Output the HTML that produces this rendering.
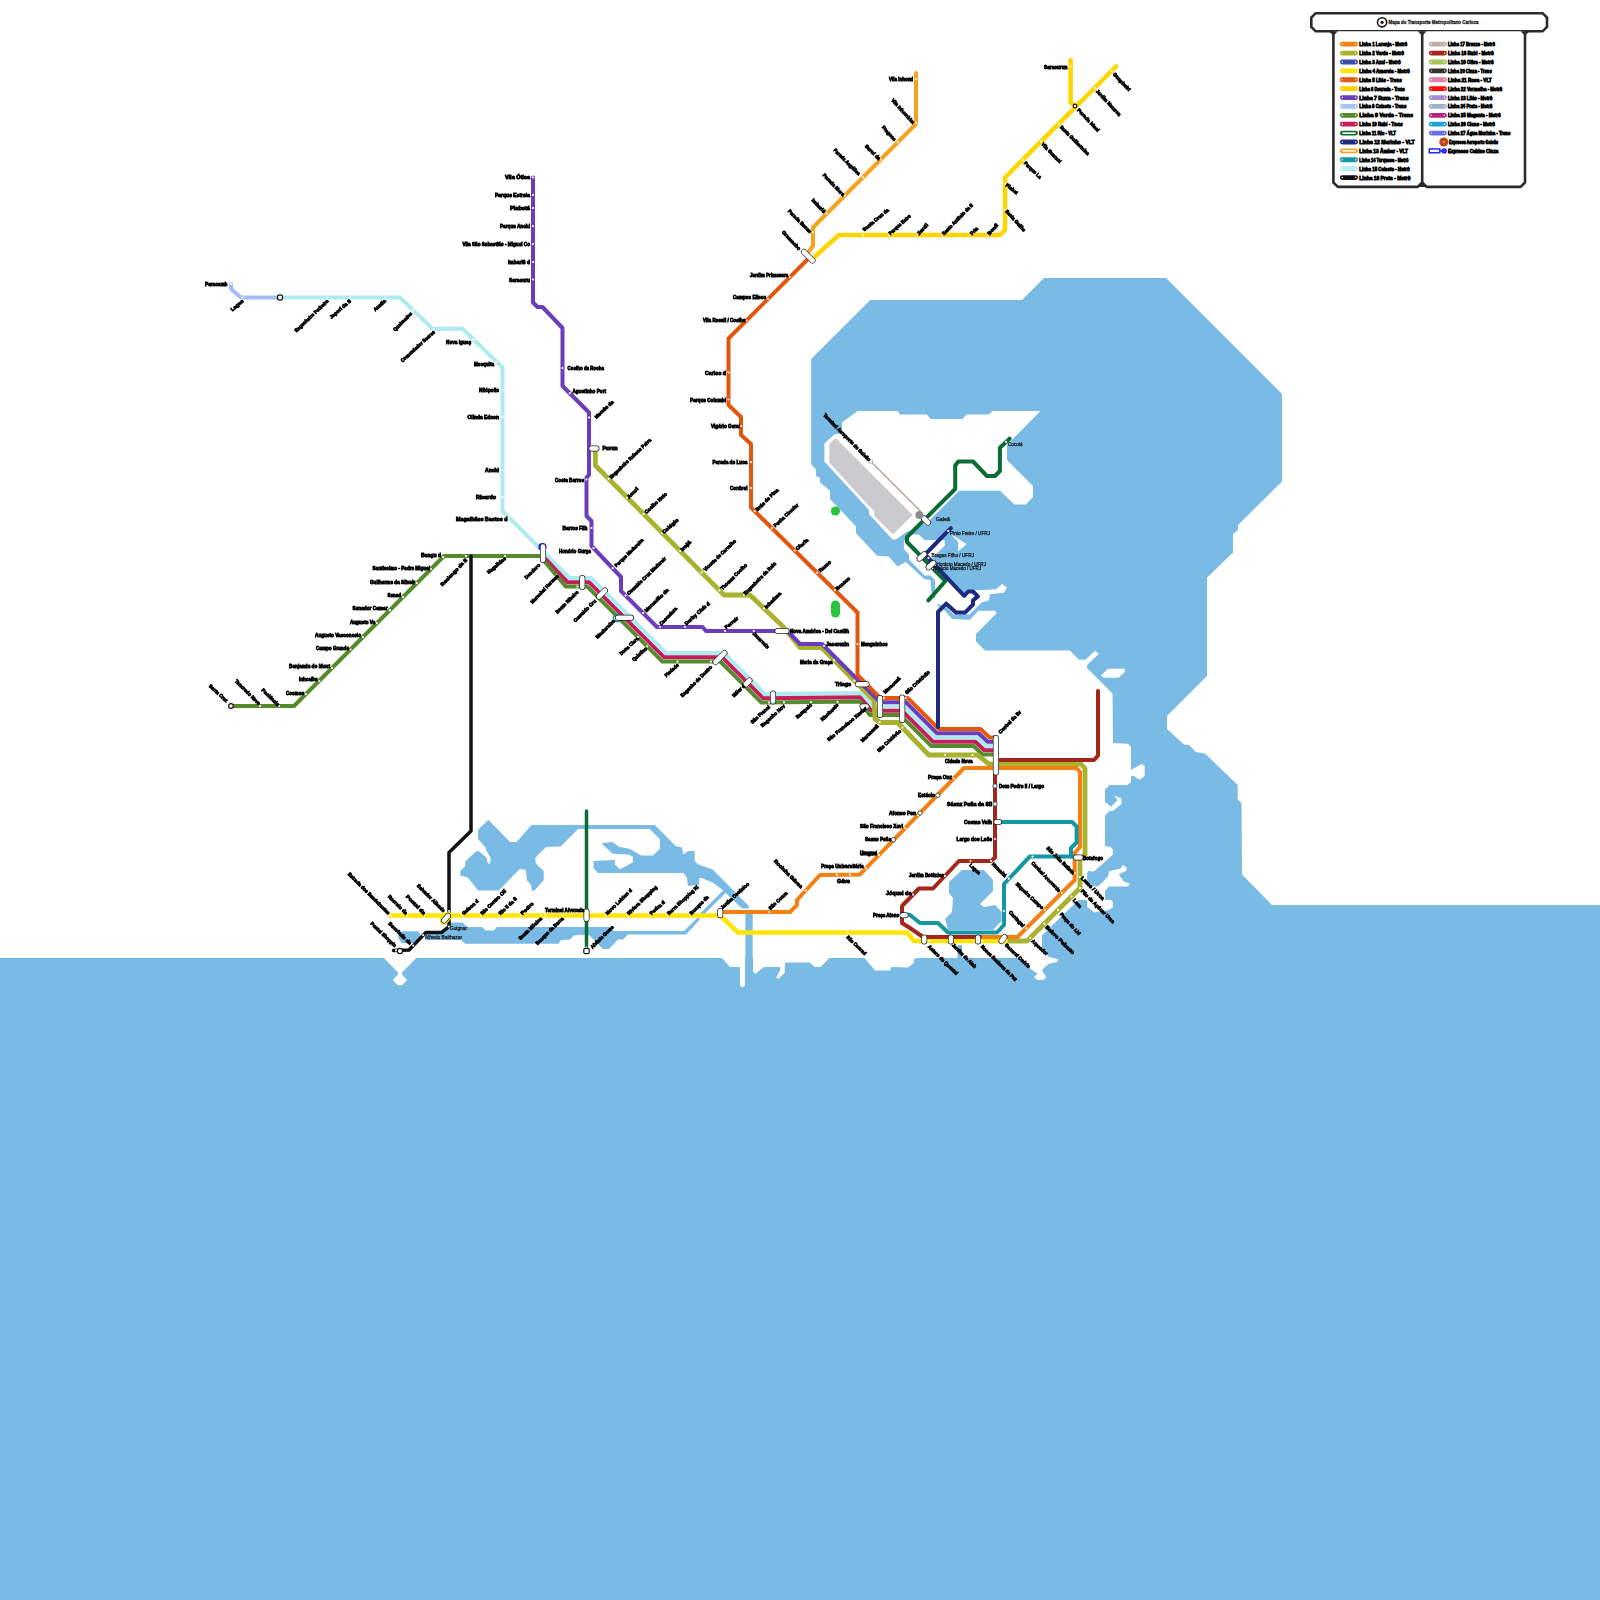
<!DOCTYPE html>
<html><head><meta charset="utf-8"><style>
html,body{margin:0;padding:0;background:#fff;}
svg{display:block;}
text{font-family:"Liberation Sans",sans-serif;font-weight:bold;fill:#000;stroke:#000;stroke-width:0.8px;}
</style></head><body>
<svg width="1600" height="1600" viewBox="0 0 1600 1600">
<polygon fill="#7abbe6" points="811.1,359.0 870.3,300.0 1022.0,300.0 1044.0,278.0 1166.0,278.0 1282.0,394.0 1282.0,481.5 1238.0,525.0 1238.0,530.0 1233.0,534.0 1233.0,552.6 1207.0,577.7 1207.0,676.0 1167.0,716.0 1167.0,729.0 1184.0,744.5 1189.0,745.0 1196.0,752.0 1205.0,753.5 1237.7,785.0 1237.7,799.0 1241.5,803.0 1242.0,874.5 1272.0,905.0 1600.0,905.0 1600.0,1600.0 0.0,1600.0 0.0,958.0 384.0,958.0 398.0,972.5 398.0,974.5 392.8,980.0 397.5,985.0 402.5,985.0 407.0,980.0 402.0,974.5 402.0,972.5 416.2,958.0 721.9,958.1 730.0,966.9 740.0,966.9 740.0,985.6 742.5,987.5 745.0,985.6 745.0,958.0 753.1,958.0 753.1,971.9 755.6,973.8 763.8,966.9 780.0,966.9 780.0,970.6 776.2,977.5 778.1,979.0 784.8,972.8 785.0,962.5 810.0,962.5 814.4,966.9 820.6,966.9 829.4,958.1 864.4,958.1 875.0,970.6 890.0,970.6 891.2,966.9 908.1,967.6 913.8,963.1 913.8,959.2 917.1,958.1 957.6,958.1 957.6,945.1 962.1,945.1 962.1,958.1 1019.5,958.1 1028.5,967.6 1037.5,973.8 1034.1,977.2 1037.5,980.0 1044.8,979.4 1045.9,976.1 1042.6,972.1 1042.6,969.3 1048.8,963.7 1057.2,962.0 1058.3,959.2 1048.8,956.9 1042.0,949.6 1042.0,935.5 1078.4,900.0 1084.4,900.0 1087.2,900.6 1087.2,906.9 1094.4,912.5 1108.8,910.0 1112.8,907.5 1112.8,901.9 1111.6,900.0 1105.0,899.7 1105.0,891.2 1108.8,886.6 1127.8,886.6 1130.0,883.8 1123.8,881.6 1118.8,874.4 1126.6,870.6 1126.6,867.5 1123.4,865.0 1120.0,868.8 1109.0,871.2 1108.0,876.6 1098.4,886.2 1092.0,886.2 1087.2,881.6 1087.2,873.8 1088.0,871.0 1093.8,871.6 1095.6,870.0 1112.8,854.7 1112.8,849.4 1110.6,847.0 1105.0,846.0 1105.0,815.7 1109.5,811.0 1113.0,811.0 1121.5,803.7 1121.5,798.5 1114.0,795.5 1117.7,800.0 1111.0,806.7 1105.0,802.0 1105.0,789.5 1109.5,785.0 1127.5,785.0 1131.0,782.0 1131.0,776.0 1134.0,776.0 1139.5,779.7 1144.7,776.0 1144.7,766.0 1141.7,764.0 1131.0,770.0 1131.0,746.7 1128.0,743.7 1113.0,743.0 1112.5,693.5 1087.0,668.0 1087.0,665.0 1099.0,653.7 1095.0,650.7 1085.5,659.7 1078.5,659.5 1069.9,650.5 985.0,650.5 976.0,641.5 976.0,634.0 996.8,613.0 994.9,610.8 978.4,610.8 969.8,619.8 952.2,619.0 945.0,610.8 938.0,606.2 931.0,590.0 930.5,580.0 924.5,579.2 905.8,562.0 897.5,566.5 888.6,556.6 877.0,555.7 856.0,533.0 856.0,526.5 830.0,499.0 830.0,490.7 824.4,486.0 820.0,482.6 820.0,477.7 816.0,476.0 816.0,469.6 811.1,464.0" />
<polygon fill="#fff" points="1101.0,675.5 1108.0,668.7 1124.5,668.7 1125.0,671.7 1118.5,677.7 1103.5,677.7" />
<polygon fill="#fff" points="824.4,443.6 835.0,434.0 842.0,434.0 842.0,422.5 857.7,411.0 897.5,411.0 900.0,414.4 926.7,414.4 930.8,419.0 962.5,419.0 966.6,414.4 988.5,414.4 992.6,411.0 1040.5,411.0 1007.0,445.0 1007.0,460.0 1033.0,486.0 1033.0,497.0 1025.9,504.6 1014.5,504.6 999.9,490.7 959.2,490.7 930.0,520.0 915.4,529.0 907.0,531.4 895.9,539.5 892.6,539.5 869.0,514.0 869.0,510.0 824.4,461.5" />
<polygon fill="#cbcbcd" stroke="#cbcbcd" stroke-width="3" stroke-linejoin="round" points="830.7,444.5 835.5,440 910.5,515 893,532.5 875.5,515 875.5,510 870,505 830.7,462"/>
<polygon fill="#fff" points="903.9,541.8 909.1,534.6 918.9,534.6 924.5,539.9 944.8,539.9 944.8,545.5 935.8,554.5 932.0,559.0 965.0,595.0 973.2,590.5 989.0,589.8 996.5,589.0 1002.0,584.0 1006.9,587.5 1004.0,592.8 989.8,594.2 989.0,600.2 981.5,602.5 969.5,614.5 953.8,614.5 946.2,607.0 939.5,604.8 935.0,602.5 935.0,580.0 930.5,575.5 924.5,575.5 909.1,559.8 909.1,554.5 903.9,549.2" />
<polygon fill="#fff" points="951.5,534.6 966.5,544.0 958.2,551.5 958.2,541.8 953.0,536.5" />
<polygon fill="#7abbe6" points="962.0,870.0 984.0,870.0 993.0,880.0 993.0,891.0 980.0,904.0 984.0,907.0 995.0,905.0 1001.6,912.0 1001.6,921.0 993.0,930.0 948.0,930.0 945.0,919.0 952.0,912.0 953.0,898.0 949.0,893.0 949.0,882.0" />
<polygon fill="#7abbe6" points="488.4,819.8 510.0,841.9 516.6,841.9 531.6,825.0 583.6,825.0 583.6,828.7 578.4,828.7 560.6,846.6 546.1,847.0 535.3,857.8 535.8,863.4 543.7,870.9 543.7,880.3 534.4,890.6 531.6,890.6 531.1,885.0 526.9,880.3 525.9,870.0 519.8,869.1 498.7,890.6 478.1,890.6 467.8,877.5 460.3,875.6 460.3,870.9 465.0,866.2 465.5,861.6 476.2,851.2 479.1,851.2 486.6,857.8 487.5,862.5 489.4,863.9 490.8,861.1 490.3,856.9 486.6,851.2 485.6,847.5 478.1,839.1 478.1,829.7" />
<polygon fill="#7abbe6" points="580.0,825.1 654.8,825.1 675.6,845.9 681.8,847.6 683.5,854.4 688.0,851.0 694.7,851.0 694.7,861.1 698.1,864.5 712.7,869.6 748.7,906.1 748.7,908.4 742.0,908.4 721.7,889.2 712.7,882.5 701.5,878.0 699.2,878.0 699.2,884.7 688.0,885.9 686.9,878.0 683.5,872.9 598.0,872.9 593.5,867.9 593.5,861.1 614.9,860.0 614.9,864.5 619.4,869.0 622.7,867.9 632.9,862.2 632.9,856.6 628.4,854.4 612.6,853.8 602.5,844.2 602.5,843.1 612.6,842.0 619.4,847.1 629.5,848.7 641.3,855.5 653.1,855.5 659.9,848.7 659.9,839.2 649.7,829.1 580.0,829.1" />
<polygon fill="#7abbe6" points="589.0,825.0 600.0,825.0 600.0,829.0 589.0,829.0" />
<polyline fill="none" stroke="#7abbe6" stroke-width="3.5" points="699.0,917.0 723.0,893.0 728.0,889.0"/>
<polygon fill="#7abbe6" points="745.4,913.0 752.7,913.0 752.7,960.0 745.4,960.0" />
<polygon fill="#7abbe6" points="402.5,931.2 418.1,931.2 420.0,933.8 420.0,936.9 413.1,943.1 401.9,943.1 398.1,938.1 398.1,935.6" />
<polygon fill="#7abbe6" points="423.8,931.9 445.0,930.6 451.2,922.5 462.5,922.5 467.5,926.9 481.9,926.9 485.6,930.6 493.8,930.6 496.9,926.9 590.0,926.9 590.0,933.8 573.8,935.6 570.0,939.4 561.2,940.0 558.1,943.8 465.0,943.8 461.2,940.0 425.6,940.0" />
<polygon fill="#7abbe6" points="580.0,927.0 611.0,927.0 614.0,931.0 684.0,931.0 697.0,918.0 699.5,918.0 699.5,920.0 686.0,934.5 628.0,934.5 623.0,939.5 618.0,939.5 609.0,949.0 603.0,949.0 589.0,935.0 580.0,934.5" />
<polyline fill="none" stroke="#a6bdf4" stroke-width="4" stroke-linejoin="round" stroke-linecap="round" points="231.0,284.0 231.0,289.0 241.0,297.5 280.0,297.5" />
<polyline fill="none" stroke="#b0eaf1" stroke-width="4" stroke-linejoin="round" stroke-linecap="round" points="280.0,297.5 400.0,297.5 432.5,328.8 462.5,328.8 502.5,367.5 502.5,511.0 569.5,578.0 591.0,578.0 666.0,653.0 724.0,653.0 765.0,694.0 860.0,693.0 873.5,706.5 880.0,706.5 904.0,706.5 935.0,737.5 977.0,737.5 986.0,746.0 995.0,746.0" />
<polyline fill="none" stroke="#c41f5b" stroke-width="4" stroke-linejoin="round" stroke-linecap="round" points="544.0,557.5 567.7,582.3 589.2,582.3 664.2,657.3 722.2,657.3 763.2,698.3 860.0,697.3 871.5,710.8 880.0,710.8 902.2,710.8 933.2,741.8 975.3,741.8 984.3,750.3 995.0,750.3" />
<polyline fill="none" stroke="#568b2d" stroke-width="4" stroke-linejoin="round" stroke-linecap="round" points="231.0,706.0 294.0,706.0 444.0,556.0 540.0,556.0 565.9,586.6 587.4,586.6 662.4,661.6 720.4,661.6 761.5,702.6 860.1,701.6 870.0,715.1 880.0,715.1 900.4,715.1 931.4,746.1 973.6,746.1 982.6,754.6 995.0,754.6" />
<polyline fill="none" stroke="#a9b22f" stroke-width="4.8" stroke-linejoin="round" stroke-linecap="round" points="595.4,449.0 595.4,465.5 724.0,595.0 750.0,595.0 782.5,626.0 800.0,647.5 821.5,647.5 874.0,700.5 875.0,718.8 880.0,722.5 897.5,722.5 928.8,755.0 977.5,755.0 988.8,764.0 1081.0,764.0 1085.0,768.5 1085.0,854.7 1080.0,859.0 1080.0,888.0 1027.0,941.0 1006.0,941.0" />
<polyline fill="none" stroke="#6a3dba" stroke-width="4" stroke-linejoin="round" stroke-linecap="round" points="533.0,177.5 533.0,302.5 537.5,307.0 542.5,307.0 562.5,328.0 562.5,386.0 589.0,412.5 589.0,475.0 586.5,477.5 586.5,516.0 591.5,521.0 591.5,546.0 621.0,577.0 621.0,591.0 657.0,627.0 702.5,627.0 706.0,631.0 787.5,631.0 800.0,644.0 822.0,644.0 880.0,702.2 905.8,702.2 936.8,733.2 978.7,733.2 987.7,741.7 995.0,741.7" />
<polyline fill="none" stroke="#e2560e" stroke-width="4" stroke-linejoin="round" stroke-linecap="round" points="808.0,259.0 728.5,338.5 728.5,405.0 741.0,417.0 741.0,435.0 751.0,444.0 751.0,507.5 857.5,612.5 857.5,675.0 880.0,697.9 907.6,697.9 938.6,728.9 980.4,728.9 989.4,737.4 995.0,737.4" />
<polyline fill="none" stroke="#f5a31f" stroke-width="4" stroke-linejoin="round" stroke-linecap="round" points="916.0,73.0 916.0,124.0 813.0,227.5 813.0,246.0 808.0,252.5" />
<polyline fill="none" stroke="#ffd500" stroke-width="4.5" stroke-linejoin="round" stroke-linecap="round" points="811.0,260.0 839.0,235.0 1000.0,235.0 1005.0,230.0 1005.0,177.5 1116.0,66.5" />
<polyline fill="none" stroke="#ffd500" stroke-width="4.5" stroke-linejoin="round" stroke-linecap="round" points="1070.6,60.0 1070.6,102.5 1075.0,106.0" />
<polyline fill="none" stroke="#111111" stroke-width="3.5" stroke-linejoin="round" stroke-linecap="round" points="471.0,556.0 471.0,831.0 449.0,852.5 449.0,926.5 441.5,932.6 425.7,932.6 409.0,950.0 393.5,950.5" />
<polyline fill="none" stroke="#ffe500" stroke-width="4.5" stroke-linejoin="round" stroke-linecap="round" points="390.7,915.5 720.0,915.5 738.0,932.5 907.0,932.5 914.0,941.0 1006.0,941.0" />
<polyline fill="none" stroke="#f47f12" stroke-width="4" stroke-linejoin="round" stroke-linecap="round" points="720.0,912.0 790.0,912.0 797.0,905.0 797.0,900.0 820.0,875.0 860.0,874.4 964.0,768.0 1076.6,768.0 1080.0,772.0 1080.0,847.0 1074.7,853.0 1074.7,880.0 1017.5,937.0 980.0,937.0" />
<polyline fill="none" stroke="#a3261a" stroke-width="4" stroke-linejoin="round" stroke-linecap="round" points="1098.0,691.0 1098.0,755.7 1094.0,760.0 995.0,760.0" />
<polyline fill="none" stroke="#a3261a" stroke-width="4" stroke-linejoin="round" stroke-linecap="round" points="995.0,775.0 995.0,857.5 991.0,861.0 959.0,861.0 933.0,888.5 919.0,888.5 902.0,906.0 902.0,923.0 910.0,928.0 923.0,937.0 980.0,937.0" />
<polyline fill="none" stroke="#1597a3" stroke-width="4" stroke-linejoin="round" stroke-linecap="round" points="1001.5,822.0 1072.0,822.0 1076.6,826.5 1076.6,842.5 1071.0,848.0 1071.0,856.6 1078.0,857.0" />
<polyline fill="none" stroke="#1597a3" stroke-width="4" stroke-linejoin="round" stroke-linecap="round" points="1071.0,856.6 1029.7,856.6 1004.0,884.0 1004.0,925.0 997.0,932.5 948.0,932.5 938.0,923.0 920.0,923.0 909.7,914.7 904.0,914.7" />
<polyline fill="none" stroke="#0b6b35" stroke-width="4" stroke-linejoin="round" stroke-linecap="round" points="1009.6,438.7 999.9,447.7 999.9,471.0 995.0,476.0 986.9,476.0 973.0,461.5 958.4,461.5 955.2,465.6 955.2,489.0 907.0,537.0 907.0,542.0 945.4,581.0 928.4,600.4" />
<polyline fill="none" stroke="#1c2a80" stroke-width="4" stroke-linejoin="round" stroke-linecap="round" points="950.8,528.2 925.0,554.5 964.2,595.8 968.2,591.5 973.0,591.5 978.0,596.4 973.0,600.4 973.0,604.5 965.0,612.6 956.0,612.6 946.2,603.7 938.0,611.8 938.0,727.0" />
<polyline fill="none" stroke="#b9a79f" stroke-width="1.5" stroke-linejoin="round" stroke-linecap="round" points="870.7,461.5 920.2,511.0" />
<polyline fill="none" stroke="#0b6b35" stroke-width="3.5" stroke-linejoin="round" stroke-linecap="round" points="586.5,811.0 586.5,951.0" />
<circle cx="231.0" cy="284.0" r="1.1" fill="#fff"/>
<circle cx="473.5" cy="339.4" r="1.1" fill="#fff"/>
<circle cx="496.4" cy="361.6" r="1.1" fill="#fff"/>
<circle cx="502.5" cy="390.0" r="1.1" fill="#fff"/>
<circle cx="502.5" cy="417.0" r="1.1" fill="#fff"/>
<circle cx="502.5" cy="470.0" r="1.1" fill="#fff"/>
<circle cx="502.5" cy="497.0" r="1.1" fill="#fff"/>
<circle cx="509.0" cy="517.5" r="1.1" fill="#fff"/>
<circle cx="533.0" cy="177.5" r="1.1" fill="#fff"/>
<circle cx="533.0" cy="195.0" r="1.1" fill="#fff"/>
<circle cx="533.0" cy="208.0" r="1.1" fill="#fff"/>
<circle cx="533.0" cy="226.0" r="1.1" fill="#fff"/>
<circle cx="533.0" cy="244.0" r="1.1" fill="#fff"/>
<circle cx="533.0" cy="262.0" r="1.1" fill="#fff"/>
<circle cx="533.0" cy="279.5" r="1.1" fill="#fff"/>
<circle cx="562.5" cy="368.0" r="1.1" fill="#fff"/>
<circle cx="569.8" cy="393.2" r="1.1" fill="#fff"/>
<circle cx="586.5" cy="479.5" r="1.1" fill="#fff"/>
<circle cx="591.5" cy="528.0" r="1.1" fill="#fff"/>
<circle cx="593.5" cy="548.1" r="1.1" fill="#fff"/>
<circle cx="788.5" cy="632.0" r="1.1" fill="#fff"/>
<circle cx="824.0" cy="646.0" r="1.1" fill="#fff"/>
<circle cx="857.5" cy="644.0" r="1.1" fill="#fff"/>
<circle cx="834.2" cy="660.3" r="1.1" fill="#fff"/>
<circle cx="854.4" cy="680.7" r="1.1" fill="#fff"/>
<circle cx="728.5" cy="372.5" r="1.1" fill="#fff"/>
<circle cx="728.5" cy="399.5" r="1.1" fill="#fff"/>
<circle cx="741.0" cy="426.0" r="1.1" fill="#fff"/>
<circle cx="751.0" cy="462.0" r="1.1" fill="#fff"/>
<circle cx="751.0" cy="488.0" r="1.1" fill="#fff"/>
<circle cx="945.0" cy="755.0" r="1.1" fill="#fff"/>
<circle cx="972.5" cy="755.0" r="1.1" fill="#fff"/>
<circle cx="953.6" cy="778.6" r="1.1" fill="#fff"/>
<circle cx="995.0" cy="786.0" r="1.1" fill="#fff"/>
<circle cx="995.0" cy="804.0" r="1.1" fill="#fff"/>
<circle cx="995.0" cy="822.0" r="1.1" fill="#fff"/>
<circle cx="995.0" cy="839.0" r="1.1" fill="#fff"/>
<circle cx="936.3" cy="796.3" r="1.1" fill="#fff"/>
<circle cx="918.1" cy="815.0" r="1.1" fill="#fff"/>
<circle cx="905.2" cy="828.2" r="1.1" fill="#fff"/>
<circle cx="892.8" cy="840.8" r="1.1" fill="#fff"/>
<circle cx="879.0" cy="855.0" r="1.1" fill="#fff"/>
<circle cx="944.9" cy="875.9" r="1.1" fill="#fff"/>
<circle cx="913.1" cy="894.6" r="1.1" fill="#fff"/>
<circle cx="902.0" cy="914.7" r="1.1" fill="#fff"/>
<circle cx="1082.5" cy="856.9" r="1.1" fill="#fff"/>
<circle cx="448.9" cy="926.6" r="1.1" fill="#fff"/>
<circle cx="423.2" cy="935.2" r="1.1" fill="#fff"/>
<circle cx="545.0" cy="915.5" r="1.1" fill="#fff"/>
<circle cx="586.5" cy="910.0" r="1.1" fill="#fff"/>
<circle cx="866.0" cy="868.3" r="1.1" fill="#fff"/>
<circle cx="836.9" cy="874.7" r="1.1" fill="#fff"/>
<circle cx="849.9" cy="874.6" r="1.1" fill="#fff"/>
<circle cx="878.8" cy="855.2" r="1.1" fill="#fff"/>
<circle cx="916.0" cy="79.0" r="1.1" fill="#fff"/>
<circle cx="790.0" cy="277.0" r="1.1" fill="#fff"/>
<circle cx="768.0" cy="299.0" r="1.1" fill="#fff"/>
<circle cx="746.5" cy="320.5" r="1.1" fill="#fff"/>
<circle cx="1070.6" cy="66.5" r="1.1" fill="#fff"/>
<circle cx="1006.1" cy="441.9" r="1.1" fill="#fff"/>
<circle cx="948.2" cy="530.9" r="1.1" fill="#fff"/>
<circle cx="928.4" cy="558.1" r="1.1" fill="#fff"/>
<circle cx="935.0" cy="565.0" r="1.1" fill="#fff"/>
<circle cx="932.8" cy="568.2" r="1.1" fill="#fff"/>
<circle cx="443.0" cy="557.0" r="1.1" fill="#fff"/>
<circle cx="431.0" cy="569.0" r="1.1" fill="#fff"/>
<circle cx="416.8" cy="583.2" r="1.1" fill="#fff"/>
<circle cx="403.0" cy="597.0" r="1.1" fill="#fff"/>
<circle cx="389.8" cy="610.2" r="1.1" fill="#fff"/>
<circle cx="376.8" cy="623.2" r="1.1" fill="#fff"/>
<circle cx="363.0" cy="637.0" r="1.1" fill="#fff"/>
<circle cx="350.5" cy="649.5" r="1.1" fill="#fff"/>
<circle cx="332.0" cy="668.0" r="1.1" fill="#fff"/>
<circle cx="319.2" cy="680.8" r="1.1" fill="#fff"/>
<circle cx="305.8" cy="694.2" r="1.1" fill="#fff"/>
<circle cx="242.5" cy="297.5" r="1.1" fill="#fff"/>
<circle cx="327.5" cy="297.5" r="1.1" fill="#fff"/>
<circle cx="350.0" cy="297.5" r="1.1" fill="#fff"/>
<circle cx="385.0" cy="297.5" r="1.1" fill="#fff"/>
<circle cx="413.2" cy="310.2" r="1.1" fill="#fff"/>
<circle cx="434.0" cy="328.8" r="1.1" fill="#fff"/>
<circle cx="589.0" cy="417.5" r="1.1" fill="#fff"/>
<circle cx="612.7" cy="568.2" r="1.1" fill="#fff"/>
<circle cx="625.6" cy="595.6" r="1.1" fill="#fff"/>
<circle cx="643.0" cy="613.0" r="1.1" fill="#fff"/>
<circle cx="660.0" cy="627.0" r="1.1" fill="#fff"/>
<circle cx="685.0" cy="627.0" r="1.1" fill="#fff"/>
<circle cx="725.0" cy="631.0" r="1.1" fill="#fff"/>
<circle cx="753.8" cy="631.0" r="1.1" fill="#fff"/>
<circle cx="608.6" cy="478.8" r="1.1" fill="#fff"/>
<circle cx="627.3" cy="497.7" r="1.1" fill="#fff"/>
<circle cx="643.5" cy="514.0" r="1.1" fill="#fff"/>
<circle cx="662.2" cy="532.8" r="1.1" fill="#fff"/>
<circle cx="680.2" cy="550.8" r="1.1" fill="#fff"/>
<circle cx="701.6" cy="572.4" r="1.1" fill="#fff"/>
<circle cx="719.4" cy="590.4" r="1.1" fill="#fff"/>
<circle cx="744.0" cy="595.0" r="1.1" fill="#fff"/>
<circle cx="764.1" cy="608.4" r="1.1" fill="#fff"/>
<circle cx="754.8" cy="511.2" r="1.1" fill="#fff"/>
<circle cx="771.9" cy="528.1" r="1.1" fill="#fff"/>
<circle cx="794.6" cy="550.5" r="1.1" fill="#fff"/>
<circle cx="817.2" cy="572.8" r="1.1" fill="#fff"/>
<circle cx="834.8" cy="590.2" r="1.1" fill="#fff"/>
<circle cx="543.5" cy="560.2" r="1.1" fill="#fff"/>
<circle cx="556.7" cy="575.7" r="1.1" fill="#fff"/>
<circle cx="577.5" cy="586.6" r="1.1" fill="#fff"/>
<circle cx="597.9" cy="597.1" r="1.1" fill="#fff"/>
<circle cx="617.4" cy="616.6" r="1.1" fill="#fff"/>
<circle cx="637.9" cy="637.1" r="1.1" fill="#fff"/>
<circle cx="647.2" cy="646.3" r="1.1" fill="#fff"/>
<circle cx="677.5" cy="661.6" r="1.1" fill="#fff"/>
<circle cx="711.0" cy="661.6" r="1.1" fill="#fff"/>
<circle cx="743.9" cy="685.1" r="1.1" fill="#fff"/>
<circle cx="769.0" cy="702.6" r="1.1" fill="#fff"/>
<circle cx="784.0" cy="702.4" r="1.1" fill="#fff"/>
<circle cx="811.0" cy="702.1" r="1.1" fill="#fff"/>
<circle cx="837.5" cy="701.8" r="1.1" fill="#fff"/>
<circle cx="865.0" cy="708.3" r="1.1" fill="#fff"/>
<circle cx="879.6" cy="722.2" r="1.1" fill="#fff"/>
<circle cx="902.4" cy="727.6" r="1.1" fill="#fff"/>
<circle cx="883.8" cy="697.9" r="1.1" fill="#fff"/>
<circle cx="905.6" cy="697.9" r="1.1" fill="#fff"/>
<circle cx="995.0" cy="737.4" r="1.1" fill="#fff"/>
<circle cx="929.0" cy="941.0" r="1.1" fill="#fff"/>
<circle cx="953.0" cy="941.0" r="1.1" fill="#fff"/>
<circle cx="982.0" cy="941.0" r="1.1" fill="#fff"/>
<circle cx="1006.0" cy="941.0" r="1.1" fill="#fff"/>
<circle cx="970.6" cy="861.0" r="1.1" fill="#fff"/>
<circle cx="991.1" cy="860.9" r="1.1" fill="#fff"/>
<circle cx="1008.9" cy="878.7" r="1.1" fill="#fff"/>
<circle cx="1074.7" cy="873.0" r="1.1" fill="#fff"/>
<circle cx="1032.5" cy="856.6" r="1.1" fill="#fff"/>
<circle cx="1061.8" cy="892.8" r="1.1" fill="#fff"/>
<circle cx="1044.8" cy="909.8" r="1.1" fill="#fff"/>
<circle cx="1004.0" cy="911.0" r="1.1" fill="#fff"/>
<circle cx="1026.3" cy="928.3" r="1.1" fill="#fff"/>
<circle cx="1080.0" cy="877.0" r="1.1" fill="#fff"/>
<circle cx="1080.0" cy="888.0" r="1.1" fill="#fff"/>
<circle cx="1071.5" cy="896.5" r="1.1" fill="#fff"/>
<circle cx="1058.0" cy="910.0" r="1.1" fill="#fff"/>
<circle cx="1044.3" cy="923.7" r="1.1" fill="#fff"/>
<circle cx="1030.2" cy="937.8" r="1.1" fill="#fff"/>
<circle cx="390.7" cy="915.5" r="1.1" fill="#fff"/>
<circle cx="407.0" cy="915.5" r="1.1" fill="#fff"/>
<circle cx="425.0" cy="915.5" r="1.1" fill="#fff"/>
<circle cx="449.0" cy="911.0" r="1.1" fill="#fff"/>
<circle cx="396.1" cy="950.4" r="1.1" fill="#fff"/>
<circle cx="413.2" cy="945.6" r="1.1" fill="#fff"/>
<circle cx="462.5" cy="915.5" r="1.1" fill="#fff"/>
<circle cx="481.0" cy="915.5" r="1.1" fill="#fff"/>
<circle cx="499.0" cy="915.5" r="1.1" fill="#fff"/>
<circle cx="521.0" cy="915.5" r="1.1" fill="#fff"/>
<circle cx="541.0" cy="915.5" r="1.1" fill="#fff"/>
<circle cx="562.5" cy="915.5" r="1.1" fill="#fff"/>
<circle cx="586.5" cy="947.5" r="1.1" fill="#fff"/>
<circle cx="606.0" cy="915.5" r="1.1" fill="#fff"/>
<circle cx="627.5" cy="915.5" r="1.1" fill="#fff"/>
<circle cx="650.0" cy="915.5" r="1.1" fill="#fff"/>
<circle cx="667.5" cy="915.5" r="1.1" fill="#fff"/>
<circle cx="690.0" cy="915.5" r="1.1" fill="#fff"/>
<circle cx="721.0" cy="912.0" r="1.1" fill="#fff"/>
<circle cx="769.0" cy="912.0" r="1.1" fill="#fff"/>
<circle cx="805.8" cy="890.5" r="1.1" fill="#fff"/>
<circle cx="847.5" cy="932.5" r="1.1" fill="#fff"/>
<circle cx="916.0" cy="123.0" r="1.1" fill="#fff"/>
<circle cx="897.8" cy="142.2" r="1.1" fill="#fff"/>
<circle cx="880.6" cy="159.6" r="1.1" fill="#fff"/>
<circle cx="863.0" cy="177.3" r="1.1" fill="#fff"/>
<circle cx="844.7" cy="195.7" r="1.1" fill="#fff"/>
<circle cx="826.7" cy="213.7" r="1.1" fill="#fff"/>
<circle cx="813.0" cy="232.0" r="1.1" fill="#fff"/>
<circle cx="863.0" cy="235.0" r="1.1" fill="#fff"/>
<circle cx="889.0" cy="235.0" r="1.1" fill="#fff"/>
<circle cx="917.5" cy="235.0" r="1.1" fill="#fff"/>
<circle cx="942.5" cy="235.0" r="1.1" fill="#fff"/>
<circle cx="970.6" cy="235.0" r="1.1" fill="#fff"/>
<circle cx="988.0" cy="235.0" r="1.1" fill="#fff"/>
<circle cx="1005.0" cy="210.0" r="1.1" fill="#fff"/>
<circle cx="1005.0" cy="184.0" r="1.1" fill="#fff"/>
<circle cx="1022.8" cy="159.8" r="1.1" fill="#fff"/>
<circle cx="1041.0" cy="141.5" r="1.1" fill="#fff"/>
<circle cx="1058.8" cy="123.8" r="1.1" fill="#fff"/>
<circle cx="1076.0" cy="106.5" r="1.1" fill="#fff"/>
<circle cx="1094.8" cy="87.8" r="1.1" fill="#fff"/>
<circle cx="1111.8" cy="70.8" r="1.1" fill="#fff"/>
<circle cx="870.7" cy="461.5" r="1.1" fill="#fff"/>
<circle cx="231.0" cy="706.0" r="1.1" fill="#fff"/>
<circle cx="260.0" cy="706.0" r="1.1" fill="#fff"/>
<circle cx="279.0" cy="706.0" r="1.1" fill="#fff"/>
<circle cx="466.0" cy="556.0" r="1.1" fill="#fff"/>
<circle cx="505.0" cy="556.0" r="1.1" fill="#fff"/>
<circle cx="542.5" cy="547" r="3.3" fill="none" stroke="#1a1aff" stroke-width="1.6"/>
<line x1="543" y1="546.5" x2="543" y2="560" stroke="#222" stroke-width="6.0" stroke-linecap="round"/>
<line x1="543" y1="546.5" x2="543" y2="560" stroke="#fff" stroke-width="4.6" stroke-linecap="round"/>
<line x1="582.3" y1="578" x2="582.3" y2="587" stroke="#222" stroke-width="6.0" stroke-linecap="round"/>
<line x1="582.3" y1="578" x2="582.3" y2="587" stroke="#fff" stroke-width="4.6" stroke-linecap="round"/>
<line x1="599" y1="596.5" x2="605" y2="590.5" stroke="#222" stroke-width="6.0" stroke-linecap="round"/>
<line x1="599" y1="596.5" x2="605" y2="590.5" stroke="#fff" stroke-width="4.6" stroke-linecap="round"/>
<circle cx="617" cy="618" r="3.6" fill="none" stroke="#1597a3" stroke-width="1.6"/>
<line x1="618" y1="617.8" x2="631" y2="617.8" stroke="#222" stroke-width="6.0" stroke-linecap="round"/>
<line x1="618" y1="617.8" x2="631" y2="617.8" stroke="#fff" stroke-width="4.6" stroke-linecap="round"/>
<line x1="591.5" y1="448.5" x2="596.5" y2="448.5" stroke="#222" stroke-width="6.0" stroke-linecap="round"/>
<line x1="591.5" y1="448.5" x2="596.5" y2="448.5" stroke="#fff" stroke-width="4.6" stroke-linecap="round"/>
<line x1="777.5" y1="631" x2="786.5" y2="631" stroke="#222" stroke-width="6.0" stroke-linecap="round"/>
<line x1="777.5" y1="631" x2="786.5" y2="631" stroke="#fff" stroke-width="4.6" stroke-linecap="round"/>
<line x1="858" y1="684.3" x2="866.5" y2="684.3" stroke="#222" stroke-width="6.0" stroke-linecap="round"/>
<line x1="858" y1="684.3" x2="866.5" y2="684.3" stroke="#fff" stroke-width="4.6" stroke-linecap="round"/>
<line x1="862.5" y1="706.5" x2="866.5" y2="706.5" stroke="#222" stroke-width="6.0" stroke-linecap="round"/>
<line x1="862.5" y1="706.5" x2="866.5" y2="706.5" stroke="#fff" stroke-width="4.6" stroke-linecap="round"/>
<line x1="880" y1="698" x2="880" y2="715" stroke="#222" stroke-width="6.0" stroke-linecap="round"/>
<line x1="880" y1="698" x2="880" y2="715" stroke="#fff" stroke-width="4.6" stroke-linecap="round"/>
<line x1="902.2" y1="697.5" x2="902.2" y2="720" stroke="#222" stroke-width="6.0" stroke-linecap="round"/>
<line x1="902.2" y1="697.5" x2="902.2" y2="720" stroke="#fff" stroke-width="4.6" stroke-linecap="round"/>
<line x1="995.9" y1="738" x2="995.9" y2="772.5" stroke="#222" stroke-width="6.0" stroke-linecap="round"/>
<line x1="995.9" y1="738" x2="995.9" y2="772.5" stroke="#fff" stroke-width="4.6" stroke-linecap="round"/>
<line x1="715.5" y1="662" x2="724.5" y2="653" stroke="#222" stroke-width="6.0" stroke-linecap="round"/>
<line x1="715.5" y1="662" x2="724.5" y2="653" stroke="#fff" stroke-width="4.6" stroke-linecap="round"/>
<line x1="745.5" y1="684.5" x2="749.5" y2="680.5" stroke="#222" stroke-width="6.0" stroke-linecap="round"/>
<line x1="745.5" y1="684.5" x2="749.5" y2="680.5" stroke="#fff" stroke-width="4.6" stroke-linecap="round"/>
<line x1="773" y1="693.5" x2="773" y2="701.5" stroke="#222" stroke-width="6.0" stroke-linecap="round"/>
<line x1="773" y1="693.5" x2="773" y2="701.5" stroke="#fff" stroke-width="4.6" stroke-linecap="round"/>
<line x1="804" y1="252" x2="812.5" y2="260.5" stroke="#222" stroke-width="6.0" stroke-linecap="round"/>
<line x1="804" y1="252" x2="812.5" y2="260.5" stroke="#fff" stroke-width="4.6" stroke-linecap="round"/>
<line x1="1076" y1="857.5" x2="1080.5" y2="857.5" stroke="#222" stroke-width="6.0" stroke-linecap="round"/>
<line x1="1076" y1="857.5" x2="1080.5" y2="857.5" stroke="#fff" stroke-width="4.6" stroke-linecap="round"/>
<line x1="996.5" y1="822" x2="999" y2="822" stroke="#222" stroke-width="6.0" stroke-linecap="round"/>
<line x1="996.5" y1="822" x2="999" y2="822" stroke="#fff" stroke-width="4.6" stroke-linecap="round"/>
<line x1="902.5" y1="915.2" x2="905.5" y2="915.2" stroke="#222" stroke-width="6.0" stroke-linecap="round"/>
<line x1="902.5" y1="915.2" x2="905.5" y2="915.2" stroke="#fff" stroke-width="4.6" stroke-linecap="round"/>
<line x1="924.2" y1="937.5" x2="924.2" y2="941.5" stroke="#222" stroke-width="6.0" stroke-linecap="round"/>
<line x1="924.2" y1="937.5" x2="924.2" y2="941.5" stroke="#fff" stroke-width="4.6" stroke-linecap="round"/>
<line x1="951" y1="937.5" x2="951" y2="941.5" stroke="#222" stroke-width="6.0" stroke-linecap="round"/>
<line x1="951" y1="937.5" x2="951" y2="941.5" stroke="#fff" stroke-width="4.6" stroke-linecap="round"/>
<line x1="978" y1="937.5" x2="978" y2="941.5" stroke="#222" stroke-width="6.0" stroke-linecap="round"/>
<line x1="978" y1="937.5" x2="978" y2="941.5" stroke="#fff" stroke-width="4.6" stroke-linecap="round"/>
<line x1="1001.5" y1="941" x2="1004.5" y2="937" stroke="#222" stroke-width="6.0" stroke-linecap="round"/>
<line x1="1001.5" y1="941" x2="1004.5" y2="937" stroke="#fff" stroke-width="4.6" stroke-linecap="round"/>
<line x1="586.5" y1="911.5" x2="586.5" y2="919" stroke="#222" stroke-width="6.0" stroke-linecap="round"/>
<line x1="586.5" y1="911.5" x2="586.5" y2="919" stroke="#fff" stroke-width="4.6" stroke-linecap="round"/>
<line x1="720.2" y1="911" x2="720.2" y2="915.2" stroke="#222" stroke-width="6.0" stroke-linecap="round"/>
<line x1="720.2" y1="911" x2="720.2" y2="915.2" stroke="#fff" stroke-width="4.6" stroke-linecap="round"/>
<line x1="444" y1="920.5" x2="448" y2="916" stroke="#ffe500" stroke-width="8.5" stroke-linecap="round"/>
<line x1="444" y1="920.5" x2="448" y2="916" stroke="#222" stroke-width="6.0" stroke-linecap="round"/>
<line x1="444" y1="920.5" x2="448" y2="916" stroke="#fff" stroke-width="4.6" stroke-linecap="round"/>
<line x1="924" y1="518.5" x2="928" y2="522.5" stroke="#222" stroke-width="6.0" stroke-linecap="round"/>
<line x1="924" y1="518.5" x2="928" y2="522.5" stroke="#fff" stroke-width="4.6" stroke-linecap="round"/>
<line x1="919.5" y1="558.5" x2="924.3" y2="554.3" stroke="#222" stroke-width="6.0" stroke-linecap="round"/>
<line x1="919.5" y1="558.5" x2="924.3" y2="554.3" stroke="#fff" stroke-width="4.6" stroke-linecap="round"/>
<line x1="928.5" y1="567.3" x2="933.3" y2="563.1" stroke="#222" stroke-width="6.0" stroke-linecap="round"/>
<line x1="928.5" y1="567.3" x2="933.3" y2="563.1" stroke="#fff" stroke-width="4.6" stroke-linecap="round"/>
<circle cx="231" cy="706" r="2.3" fill="#fff" stroke="#111" stroke-width="1.2"/>
<circle cx="280" cy="297.5" r="2.6" fill="#fff" stroke="#111" stroke-width="1.2"/>
<circle cx="400" cy="951" r="2.6" fill="#fff" stroke="#111" stroke-width="1.2"/>
<circle cx="1075" cy="106" r="1.8" fill="#fff" stroke="#111" stroke-width="1.2"/>
<rect x="583.8" y="948.3" width="5.4" height="5.4" rx="1.5" fill="#fff" stroke="#111" stroke-width="1.2"/>
<circle cx="919.4" cy="515" r="4" fill="#8e8e8e"/>
<rect x="869" y="459.8" width="3.4" height="3.4" fill="#fff" stroke="#b9a79f" stroke-width="0.8"/>
<circle cx="835.4" cy="511" r="4.6" fill="#2bc43f"/>
<rect x="831" y="600.5" width="9" height="17" rx="4.5" fill="#2bc43f"/>
<circle cx="937.8" cy="795.25" r="2.2" fill="#fff" stroke="#333" stroke-width="0.9"/>
<circle cx="920" cy="813" r="2.2" fill="#fff" stroke="#333" stroke-width="0.9"/>
<circle cx="893.4" cy="839.7" r="2.2" fill="#fff" stroke="#333" stroke-width="0.9"/>
<rect x="993" y="784" width="4" height="4" rx="1" fill="#fff" stroke="#333" stroke-width="0.9"/>
<rect x="993" y="802" width="4" height="4" rx="1" fill="#fff" stroke="#333" stroke-width="0.9"/>
<g style="opacity:0.999">
<text x="205.0" y="286.1" font-size="5.0" textLength="22.5" lengthAdjust="spacingAndGlyphs">Paracamb</text>
<text x="446.0" y="344.1" font-size="5.0" textLength="25.0" lengthAdjust="spacingAndGlyphs">Nova Iguaç</text>
<text x="474.0" y="366.1" font-size="5.0" textLength="20.0" lengthAdjust="spacingAndGlyphs">Mesquita</text>
<text x="479.0" y="392.1" font-size="5.0" textLength="20.0" lengthAdjust="spacingAndGlyphs">Nilópolis</text>
<text x="467.5" y="419.1" font-size="5.0" textLength="31.5" lengthAdjust="spacingAndGlyphs">Olinda Edson</text>
<text x="485.0" y="472.1" font-size="5.0" textLength="14.0" lengthAdjust="spacingAndGlyphs">Anchi</text>
<text x="476.0" y="499.1" font-size="5.0" textLength="20.0" lengthAdjust="spacingAndGlyphs">Ricardo</text>
<text x="456.0" y="521.1" font-size="5.0" textLength="51.5" lengthAdjust="spacingAndGlyphs">Magalhães Bastos d</text>
<text x="505.0" y="179.1" font-size="5.0" textLength="25.0" lengthAdjust="spacingAndGlyphs">Vila Ótica</text>
<text x="495.0" y="197.1" font-size="5.0" textLength="35.0" lengthAdjust="spacingAndGlyphs">Parque Estrela</text>
<text x="510.0" y="210.1" font-size="5.0" textLength="20.0" lengthAdjust="spacingAndGlyphs">Piabetá</text>
<text x="500.0" y="228.1" font-size="5.0" textLength="30.0" lengthAdjust="spacingAndGlyphs">Parque Anchi</text>
<text x="462.5" y="246.1" font-size="5.0" textLength="67.5" lengthAdjust="spacingAndGlyphs">Vila São Sebastião - Miguel Co</text>
<text x="508.0" y="264.1" font-size="5.0" textLength="22.0" lengthAdjust="spacingAndGlyphs">Imbariê d</text>
<text x="509.0" y="281.6" font-size="5.0" textLength="21.0" lengthAdjust="spacingAndGlyphs">Saracuru</text>
<text x="567.5" y="370.1" font-size="5.0" textLength="36.5" lengthAdjust="spacingAndGlyphs">Coelho da Rocha</text>
<text x="572.5" y="392.6" font-size="5.0" textLength="33.5" lengthAdjust="spacingAndGlyphs">Agostinho Port</text>
<text x="602.5" y="450.1" font-size="5.0" textLength="15.0" lengthAdjust="spacingAndGlyphs">Pavun</text>
<text x="555.0" y="481.6" font-size="5.0" textLength="29.0" lengthAdjust="spacingAndGlyphs">Costa Barros</text>
<text x="562.5" y="530.1" font-size="5.0" textLength="25.0" lengthAdjust="spacingAndGlyphs">Barros Filh</text>
<text x="559.0" y="552.6" font-size="5.0" textLength="32.0" lengthAdjust="spacingAndGlyphs">Honório Gurge</text>
<text x="790.0" y="632.6" font-size="5.0" textLength="59.0" lengthAdjust="spacingAndGlyphs">Nova América - Del Castilh</text>
<text x="826.0" y="646.1" font-size="5.0" textLength="23.0" lengthAdjust="spacingAndGlyphs">Jacarezin</text>
<text x="861.0" y="646.1" font-size="5.0" textLength="26.5" lengthAdjust="spacingAndGlyphs">Manguinhos</text>
<text x="800.0" y="664.1" font-size="5.0" textLength="32.5" lengthAdjust="spacingAndGlyphs">Maria da Graça</text>
<text x="835.0" y="686.1" font-size="5.0" textLength="16.0" lengthAdjust="spacingAndGlyphs">Triage</text>
<text x="705.0" y="374.6" font-size="5.0" textLength="21.0" lengthAdjust="spacingAndGlyphs">Carlos d</text>
<text x="690.0" y="401.6" font-size="5.0" textLength="36.0" lengthAdjust="spacingAndGlyphs">Parque Columbi</text>
<text x="711.0" y="428.1" font-size="5.0" textLength="29.0" lengthAdjust="spacingAndGlyphs">Vigário Geral</text>
<text x="712.5" y="464.1" font-size="5.0" textLength="35.0" lengthAdjust="spacingAndGlyphs">Parada de Luca</text>
<text x="730.0" y="490.1" font-size="5.0" textLength="17.5" lengthAdjust="spacingAndGlyphs">Cordovi</text>
<text x="945.0" y="762.7" font-size="5.0" textLength="27.5" lengthAdjust="spacingAndGlyphs">Cidade Nova</text>
<text x="928.0" y="779.1" font-size="5.0" textLength="24.0" lengthAdjust="spacingAndGlyphs">Praça Onz</text>
<text x="999.0" y="788.1" font-size="5.0" textLength="45.0" lengthAdjust="spacingAndGlyphs">Dom Pedro II / Largo</text>
<text x="947.0" y="806.1" font-size="5.0" textLength="45.0" lengthAdjust="spacingAndGlyphs">Sáenz Peña da Sil</text>
<text x="964.0" y="824.1" font-size="5.0" textLength="28.0" lengthAdjust="spacingAndGlyphs">Cosme Velh</text>
<text x="956.5" y="841.1" font-size="5.0" textLength="35.5" lengthAdjust="spacingAndGlyphs">Largo dos Leõe</text>
<text x="918.0" y="797.1" font-size="5.0" textLength="17.0" lengthAdjust="spacingAndGlyphs">Estácio</text>
<text x="889.0" y="815.1" font-size="5.0" textLength="27.0" lengthAdjust="spacingAndGlyphs">Afonso Pen</text>
<text x="860.0" y="828.1" font-size="5.0" textLength="43.0" lengthAdjust="spacingAndGlyphs">São Francisco Xavi</text>
<text x="865.0" y="841.1" font-size="5.0" textLength="26.0" lengthAdjust="spacingAndGlyphs">Saens Peña</text>
<text x="860.0" y="855.1" font-size="5.0" textLength="17.0" lengthAdjust="spacingAndGlyphs">Uruguai</text>
<text x="909.0" y="877.1" font-size="5.0" textLength="35.0" lengthAdjust="spacingAndGlyphs">Jardim Botânico</text>
<text x="886.0" y="895.1" font-size="5.0" textLength="25.5" lengthAdjust="spacingAndGlyphs">Jóquei da</text>
<text x="873.0" y="916.8" font-size="5.0" textLength="26.0" lengthAdjust="spacingAndGlyphs">Praça Afons</text>
<text x="1083.0" y="859.6" font-size="5.0" textLength="20.0" lengthAdjust="spacingAndGlyphs">Botafogo</text>
<text style="font-weight:normal;stroke-width:0.25px;fill:#111;stroke:#111" x="450.0" y="930.1" font-size="5.0" textLength="17.0" lengthAdjust="spacingAndGlyphs">Guignar</text>
<text style="font-weight:normal;stroke-width:0.25px;fill:#111;stroke:#111" x="425.0" y="939.1" font-size="5.0" textLength="37.0" lengthAdjust="spacingAndGlyphs">Alfredo Balthazar</text>
<text x="545.0" y="912.1" font-size="5.0" textLength="39.0" lengthAdjust="spacingAndGlyphs">Terminal Alvorada</text>
<text x="821.0" y="868.1" font-size="5.0" textLength="42.7" lengthAdjust="spacingAndGlyphs">Praça Universitária</text>
<text x="837.0" y="882.8" font-size="5.0" textLength="13.0" lengthAdjust="spacingAndGlyphs">Gáve</text>
<text x="860.0" y="855.1" font-size="5.0" textLength="16.6" lengthAdjust="spacingAndGlyphs">Urugua</text>
<text x="889.0" y="81.1" font-size="5.0" textLength="24.0" lengthAdjust="spacingAndGlyphs">Vila Inhomi</text>
<text x="750.0" y="277.1" font-size="5.0" textLength="38.0" lengthAdjust="spacingAndGlyphs">Jardim Primavera</text>
<text x="733.0" y="299.1" font-size="5.0" textLength="33.0" lengthAdjust="spacingAndGlyphs">Campos Elíseo</text>
<text x="703.0" y="321.8" font-size="5.0" textLength="42.6" lengthAdjust="spacingAndGlyphs">Vila Rosali / Coelho</text>
<text x="1044.0" y="68.6" font-size="5.0" textLength="23.5" lengthAdjust="spacingAndGlyphs">Saracurun</text>
<text style="font-weight:normal;stroke-width:0.25px;fill:#111;stroke:#111" x="935.7" y="521.1" font-size="5.0" textLength="14.3" lengthAdjust="spacingAndGlyphs">Galeã</text>
<text style="font-weight:normal;stroke-width:0.25px;fill:#111;stroke:#111" x="1008.0" y="446.1" font-size="5.0" textLength="14.6" lengthAdjust="spacingAndGlyphs">Cocotá</text>
<text style="font-weight:normal;stroke-width:0.25px;fill:#111;stroke:#111" x="950.0" y="534.8" font-size="5.0" textLength="40.0" lengthAdjust="spacingAndGlyphs">Pinto Freire / UFRJ</text>
<text style="font-weight:normal;stroke-width:0.25px;fill:#111;stroke:#111" x="931.6" y="557.1" font-size="5.0" textLength="42.4" lengthAdjust="spacingAndGlyphs">Bragas Filho / UFRJ</text>
<text style="font-weight:normal;stroke-width:0.25px;fill:#111;stroke:#111" x="936.5" y="565.6" font-size="5.0" textLength="49.5" lengthAdjust="spacingAndGlyphs">Horácio Macedo / UFRJ</text>
<text style="font-weight:normal;stroke-width:0.25px;fill:#111;stroke:#111" x="933.0" y="570.1" font-size="5.0" textLength="48.0" lengthAdjust="spacingAndGlyphs">Horácio Macedo / UFRJ</text>
<text x="421.0" y="557.1" font-size="5.0" textLength="20.0" lengthAdjust="spacingAndGlyphs">Bangu d</text>
<text x="372.5" y="570.1" font-size="5.0" textLength="57.5" lengthAdjust="spacingAndGlyphs">Santíssimo - Padre Miguel</text>
<text x="370.0" y="583.6" font-size="5.0" textLength="45.0" lengthAdjust="spacingAndGlyphs">Guilherme da Silveir</text>
<text x="387.5" y="597.1" font-size="5.0" textLength="13.5" lengthAdjust="spacingAndGlyphs">Senad</text>
<text x="352.5" y="610.1" font-size="5.0" textLength="35.0" lengthAdjust="spacingAndGlyphs">Senador Camar</text>
<text x="350.0" y="623.6" font-size="5.0" textLength="25.0" lengthAdjust="spacingAndGlyphs">Augusto Va</text>
<text x="315.0" y="637.1" font-size="5.0" textLength="46.0" lengthAdjust="spacingAndGlyphs">Augusto Vasconcelo</text>
<text x="316.0" y="650.1" font-size="5.0" textLength="33.0" lengthAdjust="spacingAndGlyphs">Campo Grande</text>
<text x="289.0" y="668.1" font-size="5.0" textLength="41.0" lengthAdjust="spacingAndGlyphs">Benjamin do Mont</text>
<text x="299.0" y="681.1" font-size="5.0" textLength="18.5" lengthAdjust="spacingAndGlyphs">Inhoaíba</text>
<text x="286.0" y="694.6" font-size="5.0" textLength="18.0" lengthAdjust="spacingAndGlyphs">Cosmos</text>
<text transform="translate(231.0,310.0) rotate(-41.0)" y="2.1" font-size="5.0" textLength="15.2" lengthAdjust="spacingAndGlyphs">Lages</text>
<text transform="translate(295.0,331.0) rotate(-43.6)" y="2.1" font-size="5.0" textLength="44.9" lengthAdjust="spacingAndGlyphs">Engenheiro Pedreira</text>
<text transform="translate(330.0,317.5) rotate(-41.2)" y="2.1" font-size="5.0" textLength="26.6" lengthAdjust="spacingAndGlyphs">Japeri da S</text>
<text transform="translate(373.8,310.0) rotate(-41.6)" y="2.1" font-size="5.0" textLength="15.1" lengthAdjust="spacingAndGlyphs">Austin</text>
<text transform="translate(393.8,330.0) rotate(-45.4)" y="2.1" font-size="5.0" textLength="24.6" lengthAdjust="spacingAndGlyphs">Queimados</text>
<text transform="translate(401.0,361.0) rotate(-42.3)" y="2.1" font-size="5.0" textLength="44.6" lengthAdjust="spacingAndGlyphs">Comendador Soares</text>
<text transform="translate(595.0,417.5) rotate(-43.3)" y="2.1" font-size="5.0" textLength="24.1" lengthAdjust="spacingAndGlyphs">Mercês da</text>
<text transform="translate(615.0,566.0) rotate(-44.5)" y="2.1" font-size="5.0" textLength="38.5" lengthAdjust="spacingAndGlyphs">Parque Madureira</text>
<text transform="translate(627.5,593.8) rotate(-44.0)" y="2.1" font-size="5.0" textLength="52.2" lengthAdjust="spacingAndGlyphs">Oswaldo Cruz Madureir</text>
<text transform="translate(645.0,611.0) rotate(-44.4)" y="2.1" font-size="5.0" textLength="31.5" lengthAdjust="spacingAndGlyphs">Mercadão da</text>
<text transform="translate(660.0,624.0) rotate(-45.9)" y="2.1" font-size="5.0" textLength="23.0" lengthAdjust="spacingAndGlyphs">Cascadura</text>
<text transform="translate(685.0,624.0) rotate(-41.9)" y="2.1" font-size="5.0" textLength="32.2" lengthAdjust="spacingAndGlyphs">Derby Club d</text>
<text transform="translate(725.0,627.5) rotate(-38.7)" y="2.1" font-size="5.0" textLength="16.0" lengthAdjust="spacingAndGlyphs">Ferreir</text>
<text transform="translate(753.8,632.5) rotate(45.0)" y="2.1" font-size="5.0" textLength="21.2" lengthAdjust="spacingAndGlyphs">Jacarezin</text>
<text transform="translate(610.0,477.5) rotate(-43.9)" y="2.1" font-size="5.0" textLength="55.5" lengthAdjust="spacingAndGlyphs">Engenheiro Rubens Paiva</text>
<text transform="translate(627.5,497.5) rotate(-45.0)" y="2.1" font-size="5.0" textLength="14.1" lengthAdjust="spacingAndGlyphs">Acari</text>
<text transform="translate(645.0,512.5) rotate(-42.9)" y="2.1" font-size="5.0" textLength="28.7" lengthAdjust="spacingAndGlyphs">Coelho Neto</text>
<text transform="translate(662.5,532.5) rotate(-42.0)" y="2.1" font-size="5.0" textLength="20.2" lengthAdjust="spacingAndGlyphs">Colégio</text>
<text transform="translate(681.0,550.0) rotate(-45.0)" y="2.1" font-size="5.0" textLength="12.7" lengthAdjust="spacingAndGlyphs">Irajá</text>
<text transform="translate(704.0,570.0) rotate(-44.1)" y="2.1" font-size="5.0" textLength="43.1" lengthAdjust="spacingAndGlyphs">Vicente de Carvalho</text>
<text transform="translate(721.0,588.8) rotate(-44.7)" y="2.1" font-size="5.0" textLength="35.2" lengthAdjust="spacingAndGlyphs">Thomaz Coelho</text>
<text transform="translate(744.0,593.8) rotate(-45.2)" y="2.1" font-size="5.0" textLength="44.0" lengthAdjust="spacingAndGlyphs">Engenheiro da Rain</text>
<text transform="translate(765.0,607.5) rotate(-45.0)" y="2.1" font-size="5.0" textLength="21.2" lengthAdjust="spacingAndGlyphs">Inhaúma</text>
<text transform="translate(756.0,510.0) rotate(-44.3)" y="2.1" font-size="5.0" textLength="30.1" lengthAdjust="spacingAndGlyphs">Brás de Pina</text>
<text transform="translate(774.0,526.0) rotate(-43.1)" y="2.1" font-size="5.0" textLength="32.2" lengthAdjust="spacingAndGlyphs">Penha Circular</text>
<text transform="translate(796.0,549.0) rotate(-41.0)" y="2.1" font-size="5.0" textLength="15.2" lengthAdjust="spacingAndGlyphs">Olaria</text>
<text transform="translate(819.0,571.0) rotate(-42.3)" y="2.1" font-size="5.0" textLength="14.9" lengthAdjust="spacingAndGlyphs">Ramo</text>
<text transform="translate(836.0,589.0) rotate(-41.5)" y="2.1" font-size="5.0" textLength="17.4" lengthAdjust="spacingAndGlyphs">Bonsuc</text>
<text transform="translate(525.0,578.0) rotate(-45.0)" y="2.1" font-size="5.0" textLength="19.8" lengthAdjust="spacingAndGlyphs">Deodoro</text>
<text transform="translate(531.0,602.5) rotate(-46.1)" y="2.1" font-size="5.0" textLength="38.2" lengthAdjust="spacingAndGlyphs">Marechal Hermes</text>
<text transform="translate(556.0,612.5) rotate(-45.0)" y="2.1" font-size="5.0" textLength="30.4" lengthAdjust="spacingAndGlyphs">Bento Ribeiro</text>
<text transform="translate(574.0,621.0) rotate(-45.0)" y="2.1" font-size="5.0" textLength="29.7" lengthAdjust="spacingAndGlyphs">Oswaldo Cru</text>
<text transform="translate(596.0,637.5) rotate(-44.2)" y="2.1" font-size="5.0" textLength="25.1" lengthAdjust="spacingAndGlyphs">Madureira</text>
<text transform="translate(620.0,654.0) rotate(-43.3)" y="2.1" font-size="5.0" textLength="24.1" lengthAdjust="spacingAndGlyphs">Dona Clara</text>
<text transform="translate(632.5,660.0) rotate(-42.8)" y="2.1" font-size="5.0" textLength="18.4" lengthAdjust="spacingAndGlyphs">Quintino</text>
<text transform="translate(665.0,676.0) rotate(-43.8)" y="2.1" font-size="5.0" textLength="17.3" lengthAdjust="spacingAndGlyphs">Piedade</text>
<text transform="translate(681.0,696.0) rotate(-45.0)" y="2.1" font-size="5.0" textLength="42.4" lengthAdjust="spacingAndGlyphs">Engenho de Dentro</text>
<text transform="translate(732.5,696.0) rotate(-43.7)" y="2.1" font-size="5.0" textLength="15.9" lengthAdjust="spacingAndGlyphs">Méier d</text>
<text transform="translate(751.0,722.5) rotate(-42.5)" y="2.1" font-size="5.0" textLength="24.4" lengthAdjust="spacingAndGlyphs">São Franci</text>
<text transform="translate(761.0,726.0) rotate(-42.4)" y="2.1" font-size="5.0" textLength="31.1" lengthAdjust="spacingAndGlyphs">Engenho Nov</text>
<text transform="translate(796.0,717.5) rotate(-42.0)" y="2.1" font-size="5.0" textLength="20.2" lengthAdjust="spacingAndGlyphs">Sampaio</text>
<text transform="translate(821.0,720.0) rotate(-44.1)" y="2.1" font-size="5.0" textLength="23.0" lengthAdjust="spacingAndGlyphs">Riachuelo</text>
<text transform="translate(827.5,740.0) rotate(-40.2)" y="2.1" font-size="5.0" textLength="50.4" lengthAdjust="spacingAndGlyphs">São Francisco Xavier</text>
<text transform="translate(861.0,741.0) rotate(-44.1)" y="2.1" font-size="5.0" textLength="23.0" lengthAdjust="spacingAndGlyphs">Maracanã</text>
<text transform="translate(877.5,751.0) rotate(-43.0)" y="2.1" font-size="5.0" textLength="30.8" lengthAdjust="spacingAndGlyphs">São Cristóvão</text>
<text transform="translate(883.8,692.5) rotate(-43.8)" y="2.1" font-size="5.0" textLength="21.7" lengthAdjust="spacingAndGlyphs">Maracanã</text>
<text transform="translate(905.6,693.0) rotate(-43.5)" y="2.1" font-size="5.0" textLength="31.9" lengthAdjust="spacingAndGlyphs">São Cristóvão</text>
<text transform="translate(999.0,732.5) rotate(-45.7)" y="2.1" font-size="5.0" textLength="30.1" lengthAdjust="spacingAndGlyphs">Central do Br</text>
<text transform="translate(929.0,945.6) rotate(44.6)" y="2.1" font-size="5.0" textLength="40.1" lengthAdjust="spacingAndGlyphs">Antero de Quental</text>
<text transform="translate(953.0,944.0) rotate(45.0)" y="2.1" font-size="5.0" textLength="32.5" lengthAdjust="spacingAndGlyphs">Jardim de Alah</text>
<text transform="translate(982.0,945.6) rotate(44.8)" y="2.1" font-size="5.0" textLength="48.8" lengthAdjust="spacingAndGlyphs">Nossa Senhora da Paz</text>
<text transform="translate(1006.0,944.0) rotate(43.8)" y="2.1" font-size="5.0" textLength="33.2" lengthAdjust="spacingAndGlyphs">General Osório</text>
<text transform="translate(970.6,864.0) rotate(45.0)" y="2.1" font-size="5.0" textLength="13.3" lengthAdjust="spacingAndGlyphs">Lagoa</text>
<text transform="translate(993.0,863.0) rotate(45.0)" y="2.1" font-size="5.0" textLength="18.4" lengthAdjust="spacingAndGlyphs">Humaitá</text>
<text transform="translate(1047.5,847.0) rotate(44.5)" y="2.1" font-size="5.0" textLength="37.1" lengthAdjust="spacingAndGlyphs">São João Batista</text>
<text transform="translate(1032.5,862.0) rotate(46.5)" y="2.1" font-size="5.0" textLength="40.0" lengthAdjust="spacingAndGlyphs">Cardeal Arcoverde</text>
<text transform="translate(1016.6,883.0) rotate(43.4)" y="2.1" font-size="5.0" textLength="36.4" lengthAdjust="spacingAndGlyphs">Siqueira Campo</text>
<text transform="translate(1010.0,911.0) rotate(47.0)" y="2.1" font-size="5.0" textLength="20.5" lengthAdjust="spacingAndGlyphs">Cantagal</text>
<text transform="translate(1082.0,877.0) rotate(45.0)" y="2.1" font-size="5.0" textLength="31.1" lengthAdjust="spacingAndGlyphs">Leme / Urca</text>
<text transform="translate(1082.0,890.0) rotate(45.0)" y="2.1" font-size="5.0" textLength="45.3" lengthAdjust="spacingAndGlyphs">Pão de Açúcar Urca</text>
<text transform="translate(1074.0,899.0) rotate(48.8)" y="2.1" font-size="5.0" textLength="10.6" lengthAdjust="spacingAndGlyphs">Lem</text>
<text transform="translate(1061.0,913.0) rotate(47.9)" y="2.1" font-size="5.0" textLength="28.3" lengthAdjust="spacingAndGlyphs">Praça do Lid</text>
<text transform="translate(1046.6,926.0) rotate(44.6)" y="2.1" font-size="5.0" textLength="38.5" lengthAdjust="spacingAndGlyphs">Bairro Peixoto</text>
<text transform="translate(1032.5,940.0) rotate(43.0)" y="2.1" font-size="5.0" textLength="20.5" lengthAdjust="spacingAndGlyphs">Arpoador</text>
<text transform="translate(349.0,873.0) rotate(45.0)" y="2.1" font-size="5.0" textLength="57.1" lengthAdjust="spacingAndGlyphs">Estrada dos Bandeirantes</text>
<text transform="translate(389.0,895.4) rotate(45.0)" y="2.1" font-size="5.0" textLength="25.5" lengthAdjust="spacingAndGlyphs">Recreio da</text>
<text transform="translate(407.0,895.4) rotate(45.0)" y="2.1" font-size="5.0" textLength="25.5" lengthAdjust="spacingAndGlyphs">Pontal da</text>
<text transform="translate(418.0,884.5) rotate(45.0)" y="2.1" font-size="5.0" textLength="37.5" lengthAdjust="spacingAndGlyphs">Salvador Allende</text>
<text transform="translate(371.5,922.5) rotate(43.8)" y="2.1" font-size="5.0" textLength="33.9" lengthAdjust="spacingAndGlyphs">Pontal Shoppin</text>
<text transform="translate(389.4,922.5) rotate(44.2)" y="2.1" font-size="5.0" textLength="30.1" lengthAdjust="spacingAndGlyphs">Benvindo da</text>
<text transform="translate(462.5,913.8) rotate(-42.5)" y="2.1" font-size="5.0" textLength="20.3" lengthAdjust="spacingAndGlyphs">Gelson d</text>
<text transform="translate(481.0,913.8) rotate(-44.7)" y="2.1" font-size="5.0" textLength="33.8" lengthAdjust="spacingAndGlyphs">Rio Centro Olí</text>
<text transform="translate(499.0,913.8) rotate(-43.7)" y="2.1" font-size="5.0" textLength="23.5" lengthAdjust="spacingAndGlyphs">Rio II da S</text>
<text transform="translate(521.0,913.8) rotate(-44.4)" y="2.1" font-size="5.0" textLength="16.1" lengthAdjust="spacingAndGlyphs">Pedro</text>
<text transform="translate(519.0,938.8) rotate(-44.0)" y="2.1" font-size="5.0" textLength="30.6" lengthAdjust="spacingAndGlyphs">Santa Mônica</text>
<text transform="translate(536.0,943.8) rotate(-44.7)" y="2.1" font-size="5.0" textLength="37.3" lengthAdjust="spacingAndGlyphs">Bosque da Barra</text>
<text transform="translate(591.0,947.5) rotate(-45.0)" y="2.1" font-size="5.0" textLength="30.4" lengthAdjust="spacingAndGlyphs">Afrânio Gome</text>
<text transform="translate(606.0,913.8) rotate(-44.7)" y="2.1" font-size="5.0" textLength="35.2" lengthAdjust="spacingAndGlyphs">Novo Leblon d</text>
<text transform="translate(627.5,913.8) rotate(-44.2)" y="2.1" font-size="5.0" textLength="39.8" lengthAdjust="spacingAndGlyphs">Riviera Shopping</text>
<text transform="translate(650.0,913.8) rotate(-42.3)" y="2.1" font-size="5.0" textLength="18.9" lengthAdjust="spacingAndGlyphs">Pedra d</text>
<text transform="translate(667.5,913.8) rotate(-42.8)" y="2.1" font-size="5.0" textLength="40.9" lengthAdjust="spacingAndGlyphs">Barra Shopping Ri</text>
<text transform="translate(690.0,913.8) rotate(-45.4)" y="2.1" font-size="5.0" textLength="24.9" lengthAdjust="spacingAndGlyphs">Bosque da</text>
<text transform="translate(721.0,908.0) rotate(-42.8)" y="2.1" font-size="5.0" textLength="36.8" lengthAdjust="spacingAndGlyphs">Jardim Oceânico</text>
<text transform="translate(769.0,908.6) rotate(-43.3)" y="2.1" font-size="5.0" textLength="24.2" lengthAdjust="spacingAndGlyphs">São Conra</text>
<text transform="translate(775.0,860.0) rotate(45.0)" y="2.1" font-size="5.0" textLength="38.2" lengthAdjust="spacingAndGlyphs">Rocinha Gávea</text>
<text transform="translate(847.5,936.0) rotate(44.2)" y="2.1" font-size="5.0" textLength="25.8" lengthAdjust="spacingAndGlyphs">São Conrad</text>
<text transform="translate(892.5,99.0) rotate(48.1)" y="2.1" font-size="5.0" textLength="32.2" lengthAdjust="spacingAndGlyphs">Vila Inhomirim</text>
<text transform="translate(883.0,126.0) rotate(48.0)" y="2.1" font-size="5.0" textLength="18.8" lengthAdjust="spacingAndGlyphs">Fragoso</text>
<text transform="translate(866.0,145.0) rotate(45.0)" y="2.1" font-size="5.0" textLength="19.8" lengthAdjust="spacingAndGlyphs">Suruí da</text>
<text transform="translate(834.7,149.0) rotate(45.0)" y="2.1" font-size="5.0" textLength="35.4" lengthAdjust="spacingAndGlyphs">Parada Angélica</text>
<text transform="translate(823.8,174.0) rotate(46.0)" y="2.1" font-size="5.0" textLength="29.2" lengthAdjust="spacingAndGlyphs">Parada Mora</text>
<text transform="translate(812.8,199.0) rotate(46.8)" y="2.1" font-size="5.0" textLength="17.8" lengthAdjust="spacingAndGlyphs">Imbariê</text>
<text transform="translate(789.0,210.0) rotate(45.0)" y="2.1" font-size="5.0" textLength="31.1" lengthAdjust="spacingAndGlyphs">Parada Banan</text>
<text transform="translate(783.0,231.0) rotate(46.6)" y="2.1" font-size="5.0" textLength="24.8" lengthAdjust="spacingAndGlyphs">Gramacho</text>
<text transform="translate(863.0,230.0) rotate(-40.0)" y="2.1" font-size="5.0" textLength="32.6" lengthAdjust="spacingAndGlyphs">Santa Cruz da</text>
<text transform="translate(889.0,233.8) rotate(-42.2)" y="2.1" font-size="5.0" textLength="27.9" lengthAdjust="spacingAndGlyphs">Parque Estre</text>
<text transform="translate(917.5,234.0) rotate(-46.5)" y="2.1" font-size="5.0" textLength="13.8" lengthAdjust="spacingAndGlyphs">Jardi</text>
<text transform="translate(942.5,234.0) rotate(-45.5)" y="2.1" font-size="5.0" textLength="42.1" lengthAdjust="spacingAndGlyphs">Santo Antônio da S</text>
<text transform="translate(970.6,234.0) rotate(-45.4)" y="2.1" font-size="5.0" textLength="9.1" lengthAdjust="spacingAndGlyphs">Fria</text>
<text transform="translate(988.0,234.0) rotate(-48.0)" y="2.1" font-size="5.0" textLength="13.5" lengthAdjust="spacingAndGlyphs">Bonfi</text>
<text transform="translate(1006.6,210.0) rotate(48.2)" y="2.1" font-size="5.0" textLength="27.6" lengthAdjust="spacingAndGlyphs">Santa Guilhe</text>
<text transform="translate(1006.6,184.0) rotate(39.5)" y="2.1" font-size="5.0" textLength="14.1" lengthAdjust="spacingAndGlyphs">Piabet</text>
<text transform="translate(1025.0,162.0) rotate(44.1)" y="2.1" font-size="5.0" textLength="22.3" lengthAdjust="spacingAndGlyphs">Parque La</text>
<text transform="translate(1042.5,143.0) rotate(45.8)" y="2.1" font-size="5.0" textLength="26.5" lengthAdjust="spacingAndGlyphs">Vila Guarani</text>
<text transform="translate(1061.0,126.0) rotate(45.0)" y="2.1" font-size="5.0" textLength="39.6" lengthAdjust="spacingAndGlyphs">Santa Guilhermina</text>
<text transform="translate(1078.4,109.0) rotate(46.4)" y="2.1" font-size="5.0" textLength="29.8" lengthAdjust="spacingAndGlyphs">Parada Ideal</text>
<text transform="translate(1097.0,90.0) rotate(46.7)" y="2.1" font-size="5.0" textLength="34.4" lengthAdjust="spacingAndGlyphs">Jardim Nazaren</text>
<text transform="translate(1114.0,73.0) rotate(46.7)" y="2.1" font-size="5.0" textLength="23.3" lengthAdjust="spacingAndGlyphs">Guapimiri</text>
<text transform="translate(824.4,414.0) rotate(45.3)" y="2.1" font-size="5.0" textLength="64.8" lengthAdjust="spacingAndGlyphs">Terminal Aeroporto do Galeão</text>
<text transform="translate(210.0,685.0) rotate(42.4)" y="2.1" font-size="5.0" textLength="23.7" lengthAdjust="spacingAndGlyphs">Santa Cruz</text>
<text transform="translate(236.0,680.0) rotate(45.0)" y="2.1" font-size="5.0" textLength="33.9" lengthAdjust="spacingAndGlyphs">Tancredo Neve</text>
<text transform="translate(262.5,689.0) rotate(44.1)" y="2.1" font-size="5.0" textLength="23.0" lengthAdjust="spacingAndGlyphs">Paciência</text>
<text transform="translate(441.0,585.0) rotate(-46.1)" y="2.1" font-size="5.0" textLength="36.1" lengthAdjust="spacingAndGlyphs">Realengo da S</text>
<text transform="translate(487.5,572.5) rotate(-40.6)" y="2.1" font-size="5.0" textLength="23.0" lengthAdjust="spacingAndGlyphs">Magalhães</text>
</g>
<path d="M1315.7,13.2 L1542.6,13.2 L1547,17.6 L1547,26.9 L1542.6,31.3 L1315.7,31.3 L1311.3,26.9 L1311.3,17.6 Z" fill="#fff" stroke="#2b2b2b" stroke-width="2.6"/>
<path d="M1333.4,31.3 L1333.4,182.5 L1337.8,186.9 L1417.8,186.9 L1422.2,182.5 L1426.6,186.9 L1520.6,186.9 L1525,182.5 L1525,31.3" fill="#fff" stroke="#2b2b2b" stroke-width="2.6" stroke-linejoin="round"/>
<line x1="1422.2" y1="31.3" x2="1422.2" y2="186.9" stroke="#2b2b2b" stroke-width="2.6"/>
<path d="M1328.9,31.3 L1337.9,31.3 L1333.4,35.8 Z" fill="#2b2b2b"/>
<path d="M1417.7,31.3 L1426.7,31.3 L1422.2,35.8 Z" fill="#2b2b2b"/>
<path d="M1520.5,31.3 L1529.5,31.3 L1525,35.8 Z" fill="#2b2b2b"/>
<path d="M1417.7,186.9 L1426.7,186.9 L1422.2,182.4 Z" fill="#2b2b2b"/>
<circle cx="1382.1" cy="22.3" r="4.6" fill="#fff" stroke="#111" stroke-width="1.6"/>
<circle cx="1382.1" cy="22.3" r="1.6" fill="#111"/>
<text x="1388.5" y="24.3" font-size="5.4" textLength="90" lengthAdjust="spacingAndGlyphs" style="stroke-width:0.3px;fill:#222;stroke:#222">Mapa do Transporte Metropolitano Carioca</text>
<line x1="1342.3" y1="44.2" x2="1355.6" y2="44.2" stroke="#f47f12" stroke-width="4.8" stroke-linecap="round"/>
<circle cx="1342.3" cy="44.2" r="0.7" fill="#fff"/><circle cx="1355.6" cy="44.2" r="0.7" fill="#fff"/>
<text x="1359.3" y="46.2" font-size="5.4" textLength="47.9" lengthAdjust="spacingAndGlyphs">Linha 1 Laranja - Metrô</text>
<line x1="1342.3" y1="53.09" x2="1355.6" y2="53.09" stroke="#a9b22f" stroke-width="4.8" stroke-linecap="round"/>
<circle cx="1342.3" cy="53.09" r="0.7" fill="#fff"/><circle cx="1355.6" cy="53.09" r="0.7" fill="#fff"/>
<text x="1359.3" y="55.1" font-size="5.4" textLength="44.7" lengthAdjust="spacingAndGlyphs">Linha 2 Verde - Metrô</text>
<line x1="1342.3" y1="61.980000000000004" x2="1355.6" y2="61.980000000000004" stroke="#3a4fb0" stroke-width="4.8" stroke-linecap="round"/>
<circle cx="1342.3" cy="61.980000000000004" r="0.7" fill="#fff"/><circle cx="1355.6" cy="61.980000000000004" r="0.7" fill="#fff"/>
<text x="1359.3" y="64.0" font-size="5.4" textLength="41.4" lengthAdjust="spacingAndGlyphs">Linha 3 Azul - Metrô</text>
<line x1="1342.3" y1="70.87" x2="1355.6" y2="70.87" stroke="#ffe600" stroke-width="4.8" stroke-linecap="round"/>
<circle cx="1342.3" cy="70.87" r="0.7" fill="#fff"/><circle cx="1355.6" cy="70.87" r="0.7" fill="#fff"/>
<text x="1359.3" y="72.9" font-size="5.4" textLength="50.4" lengthAdjust="spacingAndGlyphs">Linha 4 Amarela - Metrô</text>
<line x1="1342.3" y1="79.76" x2="1355.6" y2="79.76" stroke="#e2560e" stroke-width="4.8" stroke-linecap="round"/>
<circle cx="1342.3" cy="79.76" r="0.7" fill="#fff"/><circle cx="1355.6" cy="79.76" r="0.7" fill="#fff"/>
<text x="1359.3" y="81.8" font-size="5.4" textLength="42.3" lengthAdjust="spacingAndGlyphs">Linha 5 Lilás - Trens</text>
<line x1="1342.3" y1="88.65" x2="1355.6" y2="88.65" stroke="#ffd000" stroke-width="4.8" stroke-linecap="round"/>
<circle cx="1342.3" cy="88.65" r="0.7" fill="#fff"/><circle cx="1355.6" cy="88.65" r="0.7" fill="#fff"/>
<text x="1359.3" y="90.7" font-size="5.4" textLength="45.5" lengthAdjust="spacingAndGlyphs">Linha 6 Dourada - Trens</text>
<line x1="1342.3" y1="97.54" x2="1355.6" y2="97.54" stroke="#6a3dba" stroke-width="4.8" stroke-linecap="round"/>
<circle cx="1342.3" cy="97.54" r="0.7" fill="#fff"/><circle cx="1355.6" cy="97.54" r="0.7" fill="#fff"/>
<text x="1359.3" y="99.5" font-size="5.4" textLength="49.2" lengthAdjust="spacingAndGlyphs">Linha 7 Roxa - Trens</text>
<line x1="1342.3" y1="106.43" x2="1355.6" y2="106.43" stroke="#a6c3f6" stroke-width="4.8" stroke-linecap="round"/>
<circle cx="1342.3" cy="106.43" r="0.7" fill="#fff"/><circle cx="1355.6" cy="106.43" r="0.7" fill="#fff"/>
<text x="1359.3" y="108.4" font-size="5.4" textLength="47.1" lengthAdjust="spacingAndGlyphs">Linha 8 Celeste - Trens</text>
<line x1="1342.3" y1="115.32000000000001" x2="1355.6" y2="115.32000000000001" stroke="#568b2d" stroke-width="4.8" stroke-linecap="round"/>
<circle cx="1342.3" cy="115.32000000000001" r="0.7" fill="#fff"/><circle cx="1355.6" cy="115.32000000000001" r="0.7" fill="#fff"/>
<text x="1359.3" y="117.3" font-size="5.4" textLength="53.6" lengthAdjust="spacingAndGlyphs">Linha 9 Verde - Trens</text>
<line x1="1342.3" y1="124.21000000000001" x2="1355.6" y2="124.21000000000001" stroke="#c41f5b" stroke-width="4.8" stroke-linecap="round"/>
<circle cx="1342.3" cy="124.21000000000001" r="0.7" fill="#fff"/><circle cx="1355.6" cy="124.21000000000001" r="0.7" fill="#fff"/>
<text x="1359.3" y="126.2" font-size="5.4" textLength="43.4" lengthAdjust="spacingAndGlyphs">Linha 10 Rubi - Trens</text>
<line x1="1342.3" y1="133.10000000000002" x2="1355.6" y2="133.10000000000002" stroke="#0b6b35" stroke-width="4.8" stroke-linecap="round"/>
<line x1="1342.3" y1="133.10000000000002" x2="1355.6" y2="133.10000000000002" stroke="#fff" stroke-width="1.6"/>
<text x="1359.3" y="135.1" font-size="5.4" textLength="36.6" lengthAdjust="spacingAndGlyphs">Linha 11 Rio - VLT</text>
<line x1="1342.3" y1="141.99" x2="1355.6" y2="141.99" stroke="#1c2a80" stroke-width="4.8" stroke-linecap="round"/>
<circle cx="1342.3" cy="141.99" r="0.7" fill="#fff"/><circle cx="1355.6" cy="141.99" r="0.7" fill="#fff"/>
<text x="1359.3" y="144.0" font-size="5.4" textLength="55.3" lengthAdjust="spacingAndGlyphs">Linha 12 Marinho - VLT</text>
<line x1="1342.3" y1="150.88" x2="1355.6" y2="150.88" stroke="#f5a31f" stroke-width="4.8" stroke-linecap="round"/>
<line x1="1342.3" y1="150.88" x2="1355.6" y2="150.88" stroke="#fff" stroke-width="1.6"/>
<text x="1359.3" y="152.9" font-size="5.4" textLength="48.7" lengthAdjust="spacingAndGlyphs">Linha 13 Âmbar - VLT</text>
<line x1="1342.3" y1="159.77" x2="1355.6" y2="159.77" stroke="#1597a3" stroke-width="4.8" stroke-linecap="round"/>
<circle cx="1342.3" cy="159.77" r="0.7" fill="#fff"/><circle cx="1355.6" cy="159.77" r="0.7" fill="#fff"/>
<text x="1359.3" y="161.8" font-size="5.4" textLength="49.2" lengthAdjust="spacingAndGlyphs">Linha 14 Turquesa - Metrô</text>
<line x1="1342.3" y1="168.66000000000003" x2="1355.6" y2="168.66000000000003" stroke="#b3ecf2" stroke-width="4.8" stroke-linecap="round"/>
<circle cx="1342.3" cy="168.66000000000003" r="0.7" fill="#fff"/><circle cx="1355.6" cy="168.66000000000003" r="0.7" fill="#fff"/>
<text x="1359.3" y="170.7" font-size="5.4" textLength="50.4" lengthAdjust="spacingAndGlyphs">Linha 15 Celeste - Metrô</text>
<line x1="1342.3" y1="177.55" x2="1355.6" y2="177.55" stroke="#111111" stroke-width="4.8" stroke-linecap="round"/>
<circle cx="1342.3" cy="177.55" r="0.7" fill="#fff"/><circle cx="1355.6" cy="177.55" r="0.7" fill="#fff"/>
<text x="1359.3" y="179.6" font-size="5.4" textLength="51.2" lengthAdjust="spacingAndGlyphs">Linha 16 Preta - Metrô</text>
<line x1="1431.2" y1="44.2" x2="1444.5" y2="44.2" stroke="#c2ada3" stroke-width="4.8" stroke-linecap="round"/>
<circle cx="1431.2" cy="44.2" r="0.7" fill="#fff"/><circle cx="1444.5" cy="44.2" r="0.7" fill="#fff"/>
<text x="1447.9" y="46.2" font-size="5.4" textLength="47.1" lengthAdjust="spacingAndGlyphs">Linha 17 Bronze - Metrô</text>
<line x1="1431.2" y1="53.09" x2="1444.5" y2="53.09" stroke="#a3261a" stroke-width="4.8" stroke-linecap="round"/>
<circle cx="1431.2" cy="53.09" r="0.7" fill="#fff"/><circle cx="1444.5" cy="53.09" r="0.7" fill="#fff"/>
<text x="1447.9" y="55.1" font-size="5.4" textLength="45.8" lengthAdjust="spacingAndGlyphs">Linha 18 Rubi - Metrô</text>
<line x1="1431.2" y1="61.980000000000004" x2="1444.5" y2="61.980000000000004" stroke="#a8c55a" stroke-width="4.8" stroke-linecap="round"/>
<circle cx="1431.2" cy="61.980000000000004" r="0.7" fill="#fff"/><circle cx="1444.5" cy="61.980000000000004" r="0.7" fill="#fff"/>
<text x="1447.9" y="64.0" font-size="5.4" textLength="45.8" lengthAdjust="spacingAndGlyphs">Linha 19 Oliva - Metrô</text>
<line x1="1431.2" y1="70.87" x2="1444.5" y2="70.87" stroke="#333333" stroke-width="4.8" stroke-linecap="round"/>
<circle cx="1431.2" cy="70.87" r="0.7" fill="#fff"/><circle cx="1444.5" cy="70.87" r="0.7" fill="#fff"/>
<text x="1447.9" y="72.9" font-size="5.4" textLength="43.8" lengthAdjust="spacingAndGlyphs">Linha 20 Cinza - Trens</text>
<line x1="1431.2" y1="79.76" x2="1444.5" y2="79.76" stroke="#dd7fa6" stroke-width="4.8" stroke-linecap="round"/>
<circle cx="1431.2" cy="79.76" r="0.7" fill="#fff"/><circle cx="1444.5" cy="79.76" r="0.7" fill="#fff"/>
<text x="1447.9" y="81.8" font-size="5.4" textLength="43.8" lengthAdjust="spacingAndGlyphs">Linha 21 Rosa - VLT</text>
<line x1="1431.2" y1="88.65" x2="1444.5" y2="88.65" stroke="#ff0a0a" stroke-width="4.8" stroke-linecap="round"/>
<circle cx="1431.2" cy="88.65" r="0.7" fill="#fff"/><circle cx="1444.5" cy="88.65" r="0.7" fill="#fff"/>
<text x="1447.9" y="90.7" font-size="5.4" textLength="54.4" lengthAdjust="spacingAndGlyphs">Linha 22 Vermelha - Metrô</text>
<line x1="1431.2" y1="97.54" x2="1444.5" y2="97.54" stroke="#a48cd2" stroke-width="4.8" stroke-linecap="round"/>
<circle cx="1431.2" cy="97.54" r="0.7" fill="#fff"/><circle cx="1444.5" cy="97.54" r="0.7" fill="#fff"/>
<text x="1447.9" y="99.5" font-size="5.4" textLength="44.6" lengthAdjust="spacingAndGlyphs">Linha 23 Lilás - Metrô</text>
<line x1="1431.2" y1="106.43" x2="1444.5" y2="106.43" stroke="#9db5c9" stroke-width="4.8" stroke-linecap="round"/>
<circle cx="1431.2" cy="106.43" r="0.7" fill="#fff"/><circle cx="1444.5" cy="106.43" r="0.7" fill="#fff"/>
<text x="1447.9" y="108.4" font-size="5.4" textLength="44.6" lengthAdjust="spacingAndGlyphs">Linha 24 Prata - Metrô</text>
<line x1="1431.2" y1="115.32000000000001" x2="1444.5" y2="115.32000000000001" stroke="#b5257c" stroke-width="4.8" stroke-linecap="round"/>
<circle cx="1431.2" cy="115.32000000000001" r="0.7" fill="#fff"/><circle cx="1444.5" cy="115.32000000000001" r="0.7" fill="#fff"/>
<text x="1447.9" y="117.3" font-size="5.4" textLength="52.8" lengthAdjust="spacingAndGlyphs">Linha 25 Magenta - Metrô</text>
<line x1="1431.2" y1="124.21000000000001" x2="1444.5" y2="124.21000000000001" stroke="#1ba3d3" stroke-width="4.8" stroke-linecap="round"/>
<circle cx="1431.2" cy="124.21000000000001" r="0.7" fill="#fff"/><circle cx="1444.5" cy="124.21000000000001" r="0.7" fill="#fff"/>
<text x="1447.9" y="126.2" font-size="5.4" textLength="47.1" lengthAdjust="spacingAndGlyphs">Linha 26 Ciano - Metrô</text>
<line x1="1431.2" y1="133.10000000000002" x2="1444.5" y2="133.10000000000002" stroke="#6a6fe0" stroke-width="4.8" stroke-linecap="round"/>
<circle cx="1431.2" cy="133.10000000000002" r="0.7" fill="#fff"/><circle cx="1444.5" cy="133.10000000000002" r="0.7" fill="#fff"/>
<text x="1447.9" y="135.1" font-size="5.4" textLength="62.5" lengthAdjust="spacingAndGlyphs">Linha 27 Água Marinha - Trens</text>
<circle cx="1443.8" cy="141.99" r="4.5" fill="#c0461b"/><circle cx="1443.8" cy="141.99" r="0.8" fill="#fff"/>
<text x="1449" y="144.0" font-size="5.4" textLength="49" lengthAdjust="spacingAndGlyphs">Expresso Aeroporto Galeão</text>
<rect x="1429.3" y="148.98" width="10.5" height="3.8" fill="none" stroke="#1a1aff" stroke-width="1.4"/>
<circle cx="1444.2" cy="150.88" r="1.9" fill="none" stroke="#1a1aff" stroke-width="1.4"/><line x1="1440" y1="150.88" x2="1446" y2="150.88" stroke="#1a1aff" stroke-width="1.6"/>
<text x="1447.9" y="152.9" font-size="5.4" textLength="50.3" lengthAdjust="spacingAndGlyphs">Expresso Cabine Cinza</text>
</svg></body></html>
